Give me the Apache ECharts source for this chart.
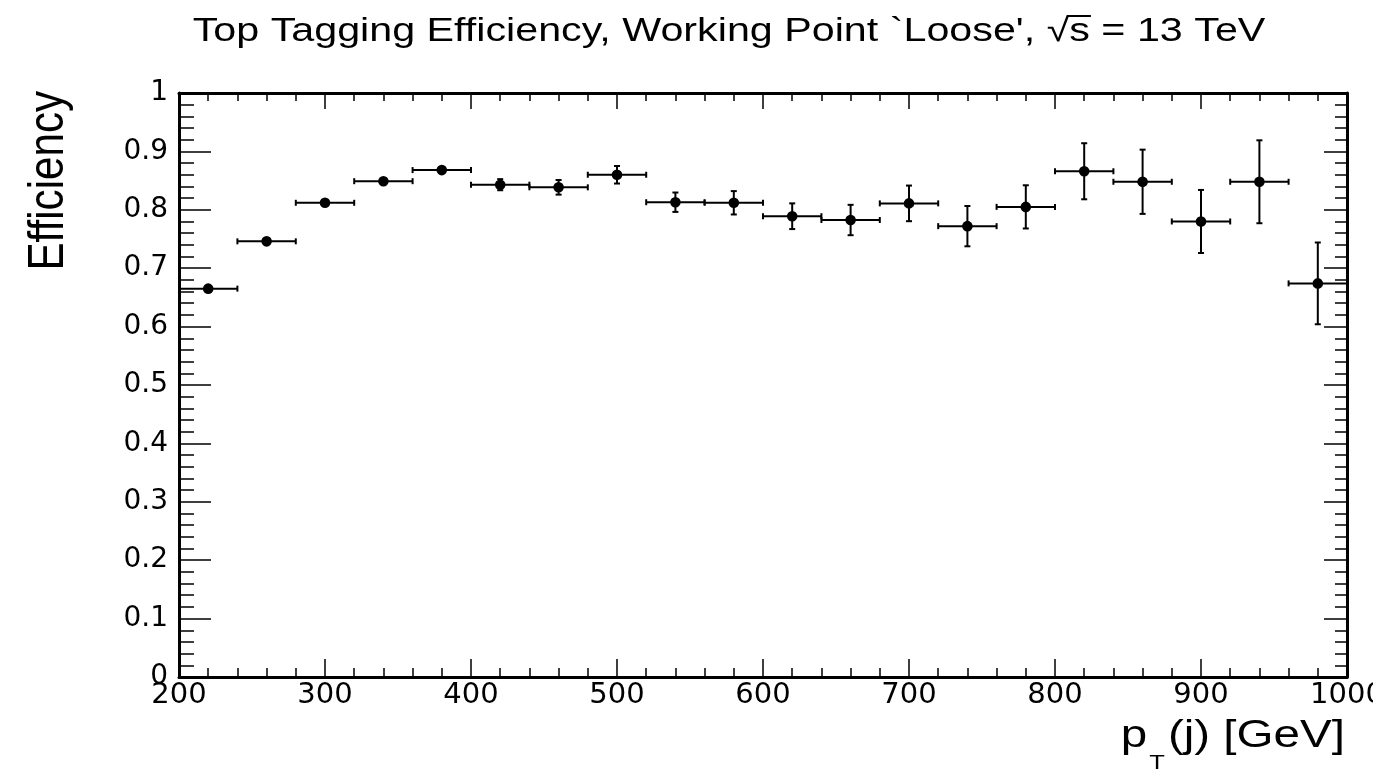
<!DOCTYPE html>
<html>
<head>
<meta charset="utf-8">
<script src="https://cdn.jsdelivr.net/npm/echarts@6/dist/echarts.min.js"></script>
<style>
html,body{margin:0;padding:0;background:#fff;}
#chart{width:1373px;height:770px;}
</style>
</head>
<body>
<div id="chart"></div>
<script>
// ---- data ----
const binCenters = [220, 260, 300, 340, 380, 420, 460, 500, 540, 580, 620, 660, 700, 740, 780, 820, 860, 900, 940, 980];
const binHalfWidth = [20, 20, 20, 20, 20, 20, 20, 20, 20, 20, 20, 20, 20, 20, 20, 20, 20, 20, 20, 20];
const efficiency = [0.665, 0.746, 0.812, 0.849, 0.868, 0.843, 0.8385, 0.860, 0.813, 0.812, 0.789, 0.7825, 0.811, 0.772, 0.805, 0.866, 0.848, 0.780, 0.848, 0.674];
const effError = [0.003, 0.003, 0.004, 0.004, 0.004, 0.0095, 0.0125, 0.015, 0.0166, 0.020, 0.022, 0.026, 0.0305, 0.0345, 0.037, 0.048, 0.055, 0.054, 0.071, 0.070];
const xTicks = { min: 200, max: 1000, interval: 100 };
const yTicks = { min: 0, max: 1, interval: 0.1 };
const titlePre = "Top Tagging Efficiency, Working Point `Loose', ";
const titleSqrt = "\u221A";
const titlePost = "s = 13 TeV";
const yTitle = "Efficiency";
const xTitleMain = "p";
const xTitleSub = "T";
const xTitleRest = "(j) [GeV]";

const FONT = '"Liberation Sans", Arial, Helvetica, sans-serif';
const TICKFONT = '"DejaVu Sans", sans-serif';
const data = binCenters.map((x, i) => [x, efficiency[i], effError[i], binHalfWidth[i]]);

const chart = echarts.init(document.getElementById('chart'), null, { renderer: 'canvas' });

const cv = document.createElement('canvas').getContext('2d');
function measure(t, size) { cv.font = size + 'px ' + FONT; return cv.measureText(t).width; }

// title layout (horizontally stretched like the reference)
const titleSize = 33, titleCenter = 729, titleStretch = 1.25;
const titleText = titlePre + titleSqrt + titlePost;
const tW = measure(titleText, titleSize) * titleStretch;
const tX0 = titleCenter - tW / 2;
const sqrtEndX = tX0 + measure(titlePre + titleSqrt, titleSize) * titleStretch;
const sEndX = tX0 + measure(titlePre + titleSqrt + 's', titleSize) * titleStretch;

// x title layout
const xtSize = 39, xtRight = 1345, xtStretch = 1.22, subSize = 21;
const restW = measure(xTitleRest, xtSize) * xtStretch;
const tSubW = measure(xTitleSub, subSize) * xtStretch;
const pW = measure(xTitleMain, xtSize) * xtStretch;
const restX = xtRight - restW;
const subX = restX - tSubW - 3;
const pX = subX - pW - 2;

const R = 5.3, CAP = 3;
function renderItem(params, api) {
  const x = api.value(0), y = api.value(1), ey = api.value(2), hw = api.value(3);
  const c = api.coord([x, y]);
  const l = api.coord([x - hw, y]);
  const r = api.coord([x + hw, y]);
  const t = api.coord([x, y + ey]);
  const b = api.coord([x, y - ey]);
  const st = { stroke: '#000', lineWidth: 2 };
  const ch = [
    { type: 'line', shape: { x1: l[0], y1: l[1], x2: r[0], y2: r[1] }, style: st },
    { type: 'line', shape: { x1: l[0], y1: l[1] - CAP, x2: l[0], y2: l[1] + CAP }, style: st },
    { type: 'line', shape: { x1: r[0], y1: r[1] - CAP, x2: r[0], y2: r[1] + CAP }, style: st }
  ];
  if (c[1] - t[1] > R) {
    ch.push({ type: 'line', shape: { x1: t[0], y1: t[1], x2: b[0], y2: b[1] }, style: st });
    ch.push({ type: 'line', shape: { x1: t[0] - CAP, y1: t[1], x2: t[0] + CAP, y2: t[1] }, style: st });
    ch.push({ type: 'line', shape: { x1: b[0] - CAP, y1: b[1], x2: b[0] + CAP, y2: b[1] }, style: st });
  }
  ch.push({ type: 'circle', shape: { cx: c[0], cy: c[1], r: R }, style: { fill: '#000' } });
  return { type: 'group', children: ch };
}

function xAxisDef(pos, showLabel, major, minor) {
  return {
    type: 'value', position: pos, min: xTicks.min, max: xTicks.max, interval: xTicks.interval,
    axisLine: { show: true, onZero: false, lineStyle: { color: '#000', width: 3 } },
    axisTick: { show: true, inside: true, length: major, lineStyle: { color: '#000', width: 1.5 } },
    minorTick: { show: true, splitNumber: 5, length: minor, lineStyle: { color: '#000', width: 1.5 } },
    splitLine: { show: false }, minorSplitLine: { show: false },
    axisLabel: { show: showLabel, color: '#000', fontFamily: TICKFONT, fontSize: 29, margin: 4,
      showMinLabel: true, showMaxLabel: true, hideOverlap: false, formatter: v => String(v) }
  };
}
function yAxisDef(pos, showLabel, major, minor) {
  return {
    type: 'value', position: pos, min: yTicks.min, max: yTicks.max, interval: yTicks.interval,
    axisLine: { show: true, onZero: false, lineStyle: { color: '#000', width: 3 } },
    axisTick: { show: true, inside: true, length: major, lineStyle: { color: '#000', width: 1.5 } },
    minorTick: { show: true, splitNumber: 5, length: minor, lineStyle: { color: '#000', width: 1.5 } },
    splitLine: { show: false }, minorSplitLine: { show: false },
    axisLabel: { show: showLabel, color: '#000', fontFamily: TICKFONT, fontSize: 28, margin: 11,
      showMinLabel: true, showMaxLabel: true, hideOverlap: false, formatter: v => String(+v.toFixed(2)) }
  };
}

const option = {
  backgroundColor: '#fff',
  animation: false,
  grid: { left: 179, right: 26, top: 93, bottom: 93, containLabel: false, outerBoundsMode: 'none' },
  xAxis: [xAxisDef('bottom', true, 18, 9), xAxisDef('top', false, 16, 8)],
  yAxis: [yAxisDef('left', true, 32, 15), yAxisDef('right', false, 23, 12)],
  series: [{
    type: 'custom', xAxisIndex: 0, yAxisIndex: 0,
    renderItem: renderItem,
    encode: { x: 0, y: 1 },
    data: data,
    clip: false
  }],
  graphic: [
    { type: 'text', x: tX0, y: 32, scaleX: titleStretch,
      style: { text: titleText, font: titleSize + 'px ' + FONT, fill: '#000', align: 'left', verticalAlign: 'middle' } },
    { type: 'line', shape: { x1: sqrtEndX - 2, y1: 16, x2: sEndX + 1, y2: 16 }, style: { stroke: '#000', lineWidth: 2 } },
    { type: 'text', x: 49, y: 91, rotation: Math.PI / 2, scaleX: 1.08, scaleY: 1.3,
      style: { text: yTitle, font: '39px ' + FONT, fill: '#000', align: 'right', verticalAlign: 'middle' } },
    { type: 'text', x: pX, y: 736, scaleX: xtStretch, style: { text: xTitleMain, font: xtSize + 'px ' + FONT, fill: '#000', align: 'left', verticalAlign: 'middle' } },
    { type: 'text', x: subX, y: 763, scaleX: xtStretch, style: { text: xTitleSub, font: subSize + 'px ' + FONT, fill: '#000', align: 'left', verticalAlign: 'middle' } },
    { type: 'text', x: restX, y: 736, scaleX: xtStretch, style: { text: xTitleRest, font: xtSize + 'px ' + FONT, fill: '#000', align: 'left', verticalAlign: 'middle' } }
  ]
};
chart.setOption(option);
</script>
</body>
</html>
